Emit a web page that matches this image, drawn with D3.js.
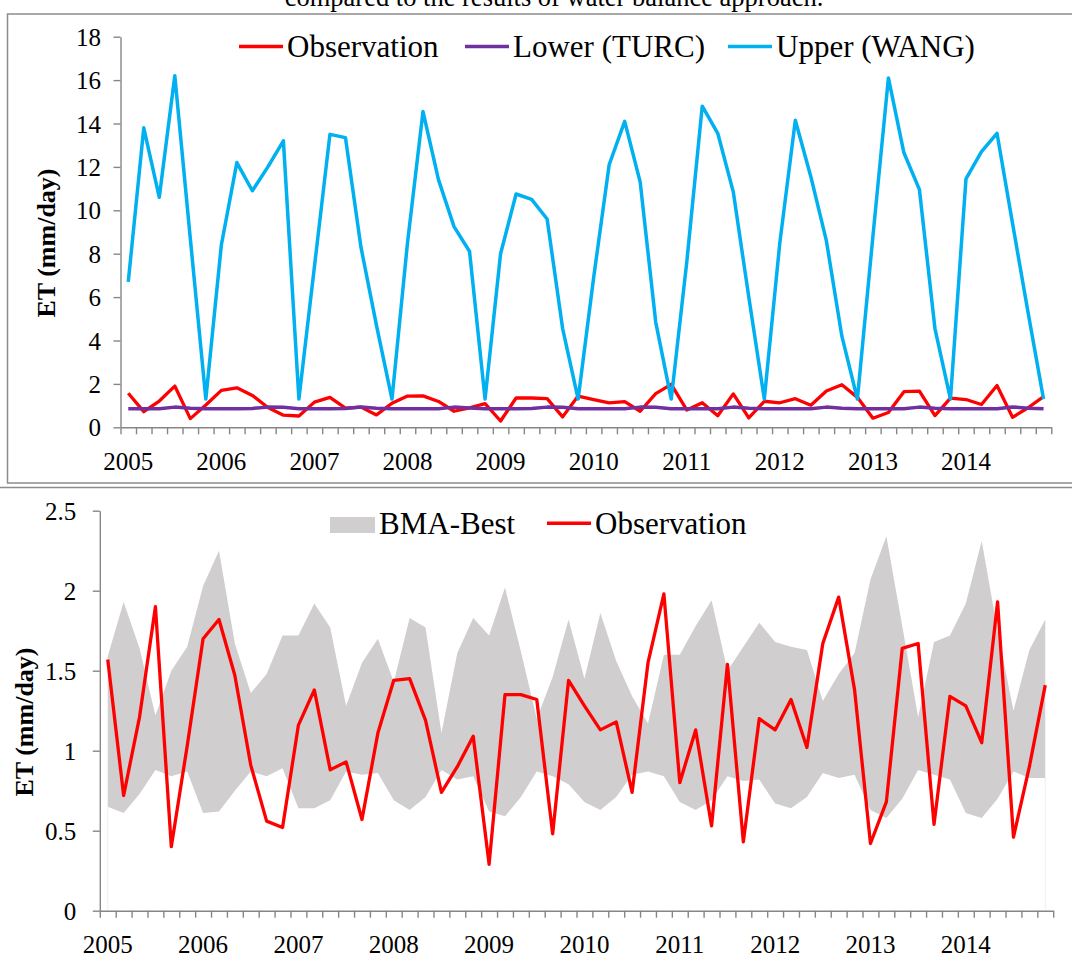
<!DOCTYPE html>
<html>
<head>
<meta charset="utf-8">
<script src="https://cdn.jsdelivr.net/npm/d3@7/dist/d3.min.js"></script>
<style>
  body { margin: 0; background: #fff; }
  svg { display: block; font-family: 'Liberation Serif', 'Times New Roman', serif; }
</style>
</head>
<body>
<div id="chart-container"></div>
<script>
// bimonthly values, 6 per year, 2005 - 2014
const years = ['2005', '2006', '2007', '2008', '2009', '2010', '2011', '2012', '2013', '2014'];
const observation = [1.57, 0.72, 1.21, 1.90, 0.40, 1.03, 1.70, 1.82, 1.47, 0.91,
  0.56, 0.52, 1.16, 1.38, 0.88, 0.93, 0.57, 1.11, 1.44, 1.45,
  1.19, 0.74, 0.90, 1.09, 0.29, 1.35, 1.35, 1.32, 0.48, 1.44,
  1.28, 1.13, 1.18, 0.74, 1.55, 1.98, 0.80, 1.13, 0.53, 1.54,
  0.43, 1.20, 1.13, 1.32, 1.02, 1.67, 1.96, 1.38, 0.42, 0.68,
  1.64, 1.67, 0.54, 1.34, 1.28, 1.05, 1.93, 0.46, 0.90, 1.41];
const lowerTurc = [0.85, 0.85, 0.86, 0.93, 0.88, 0.85, 0.85, 0.85, 0.87, 0.93,
  0.92, 0.86, 0.85, 0.85, 0.87, 0.94, 0.88, 0.85, 0.85, 0.85,
  0.86, 0.93, 0.89, 0.85, 0.85, 0.85, 0.87, 0.93, 0.92, 0.86,
  0.85, 0.85, 0.86, 0.93, 0.92, 0.86, 0.85, 0.85, 0.86, 0.93,
  0.88, 0.85, 0.85, 0.85, 0.86, 0.93, 0.88, 0.85, 0.85, 0.85,
  0.86, 0.93, 0.88, 0.85, 0.85, 0.85, 0.86, 0.94, 0.88, 0.85];
const upperWang = [6.7, 13.8, 10.6, 16.2, 8.7, 1.3, 8.4, 12.2, 10.9, 12.0,
  13.2, 1.3, 7.4, 13.5, 13.35, 8.3, 4.7, 1.3, 8.5, 14.55,
  11.4, 9.25, 8.1, 1.3, 8.0, 10.75, 10.5, 9.6, 4.55, 1.3,
  6.9, 12.1, 14.1, 11.3, 4.85, 1.3, 7.6, 14.8, 13.55, 10.85,
  6.0, 1.3, 8.5, 14.15, 11.55, 8.6, 4.2, 1.3, 8.8, 16.1,
  12.65, 10.95, 4.55, 1.3, 11.45, 12.7, 13.55, 9.4, 5.3, 1.3];
const bmaLow = [0.65, 0.61, 0.73, 0.88, 0.84, 0.87, 0.61, 0.62, 0.75, 0.87,
  0.84, 0.89, 0.64, 0.64, 0.69, 0.87, 0.85, 0.86, 0.69, 0.63,
  0.71, 0.88, 0.82, 0.84, 0.62, 0.59, 0.71, 0.87, 0.84, 0.79,
  0.68, 0.63, 0.71, 0.85, 0.87, 0.84, 0.68, 0.63, 0.69, 0.84,
  0.81, 0.82, 0.67, 0.64, 0.71, 0.86, 0.83, 0.85, 0.63, 0.58,
  0.70, 0.88, 0.85, 0.82, 0.61, 0.58, 0.70, 0.87, 0.83, 0.83];
const bmaHigh = [1.59, 1.93, 1.64, 1.22, 1.50, 1.65, 2.03, 2.25, 1.67, 1.36,
  1.48, 1.72, 1.72, 1.92, 1.77, 1.28, 1.55, 1.70, 1.43, 1.83,
  1.77, 1.11, 1.61, 1.83, 1.72, 2.02, 1.62, 1.20, 1.46, 1.82,
  1.45, 1.86, 1.56, 1.34, 1.17, 1.60, 1.60, 1.78, 1.94, 1.50,
  1.65, 1.80, 1.68, 1.65, 1.63, 1.31, 1.48, 1.61, 2.07, 2.34,
  1.78, 1.21, 1.68, 1.72, 1.92, 2.31, 1.75, 1.25, 1.63, 1.82];
const topTicks = [0, 2, 4, 6, 8, 10, 12, 14, 16, 18];
const bottomTicks = [0, 0.5, 1, 1.5, 2, 2.5];

const w = 1072;
const h = 961;
const perYear = 6;
const axisColor = '#868686';
const red = '#FF0000';
const purple = '#7030A0';
const blue = '#00B0F0';
const bandColor = '#D0CECE';
const serif = 'Liberation Serif, Times New Roman, serif';

const svg = d3.select('#chart-container')
  .append('svg')
  .attr('width', w)
  .attr('height', h);

// caption of the figure, cut at the top of the picture as in the original
svg.append('text')
  .attr('x', 554)
  .attr('y', 6)
  .attr('text-anchor', 'middle')
  .attr('font-size', 26.5)
  .text('compared to the results of water balance approach.');

// frame round the upper panel and the top edge of the lower one
svg.append('rect')
  .attr('x', 7.5)
  .attr('y', 14)
  .attr('width', 1100)
  .attr('height', 469)
  .attr('fill', 'none')
  .attr('stroke', '#8c8c8c')
  .attr('stroke-width', 1.5);
svg.append('line')
  .attr('x1', 0).attr('x2', w)
  .attr('y1', 487.5).attr('y2', 487.5)
  .attr('stroke', '#8c8c8c')
  .attr('stroke-width', 1.5);

const index = observation.map((d, i) => i);

function drawAxes(g, xScale, yScale, ticks, labelGap) {
  const [x0, x1] = xScale.range();
  const y0 = yScale.range()[0];
  const boundary = d3.scaleLinear().domain([0, index.length]).range([x0, x1]);

  const xAxis = g.append('g')
    .attr('transform', 'translate(0, ' + y0 + ')')
    .call(d3.axisBottom(boundary)
      .tickValues(d3.range(index.length + 1))
      .tickSize(7)
      .tickSizeOuter(0)
      .tickFormat(''));

  const xLabels = g.append('g')
    .attr('transform', 'translate(0, ' + y0 + ')')
    .call(d3.axisBottom(xScale)
      .tickValues(index.filter(i => i % perYear === 0))
      .tickSize(0)
      .tickFormat(i => years[i / perYear]));
  xLabels.select('.domain').remove();
  xLabels.attr('font-family', serif);
  xLabels.selectAll('text')
    .attr('y', 42.5)
    .attr('dy', null)
    .attr('font-size', 25)
    .attr('fill', '#000');

  const yAxis = g.append('g')
    .attr('transform', 'translate(' + x0 + ', 0)')
    .call(d3.axisLeft(yScale)
      .tickValues(ticks)
      .tickFormat(d => String(d))
      .tickSize(7)
      .tickSizeOuter(0)
      .tickPadding(labelGap));
  yAxis.attr('font-family', serif);
  yAxis.selectAll('text')
    .attr('font-size', 25)
    .attr('fill', '#000')
    .attr('dy', '0.34em');

  [xAxis, yAxis].forEach(a => {
    a.select('.domain').attr('stroke', axisColor).attr('stroke-width', 1.4);
    a.selectAll('.tick line').attr('stroke', axisColor).attr('stroke-width', 1.4);
  });
}

function yTitle(g, x, y) {
  g.append('text')
    .attr('transform', 'translate(' + x + ', ' + y + ') rotate(-90)')
    .attr('text-anchor', 'middle')
    .attr('font-size', 26)
    .attr('font-weight', 'bold')
    .text('ET (mm/day)');
}

function legendLine(g, x, y, color, label) {
  g.append('line')
    .attr('x1', x).attr('x2', x + 44)
    .attr('y1', y).attr('y2', y)
    .attr('stroke', color)
    .attr('stroke-width', 3.5);
  g.append('text')
    .attr('x', x + 48)
    .attr('y', y + 10.5)
    .attr('font-size', 31)
    .text(label);
}

// ---------- upper panel ----------
const topPanel = svg.append('g');
const xTop = d3.scaleBand().domain(index).range([120.5, 1051.3]);
const yTop = d3.scaleLinear().domain([0, 18]).range([427.3, 36.7]);
drawAxes(topPanel, xTop, yTop, topTicks, 12.5);
yTitle(topPanel, 55, 243);

const lineTop = d3.line()
  .x((d, i) => xTop(i) + xTop.bandwidth() / 2)
  .y(d => yTop(d));

[[observation, red, 3.3], [lowerTurc, purple, 3.5], [upperWang, blue, 3.5]].forEach(([data, color, width]) => {
  topPanel.append('path')
    .datum(data)
    .attr('d', lineTop)
    .attr('fill', 'none')
    .attr('stroke', color)
    .attr('stroke-width', width)
    .attr('stroke-linejoin', 'round');
});

legendLine(topPanel, 239, 46.5, red, 'Observation');
legendLine(topPanel, 465, 46.5, purple, 'Lower (TURC)');
legendLine(topPanel, 728, 46.5, blue, 'Upper (WANG)');

// ---------- lower panel ----------
const bottomPanel = svg.append('g');
const xBot = d3.scaleBand().domain(index).range([99.8, 1053.2]);
const yBot = d3.scaleLinear().domain([0, 2.5]).range([910.7, 510.7]);
const cx = i => xBot(i) + xBot.bandwidth() / 2;

const band = d3.area()
  .x((d, i) => cx(i))
  .y0((d, i) => yBot(bmaLow[i]))
  .y1(d => yBot(d));
bottomPanel.append('path')
  .datum(bmaHigh)
  .attr('d', band)
  .attr('fill', bandColor);

// faint edges left by the stacked area under the band
[0, index.length - 1].forEach(i => {
  bottomPanel.append('line')
    .attr('x1', cx(i)).attr('x2', cx(i))
    .attr('y1', yBot(bmaLow[i])).attr('y2', yBot(0))
    .attr('stroke', '#efefef')
    .attr('stroke-width', 1);
});

drawAxes(bottomPanel, xBot, yBot, bottomTicks, 16.5);
yTitle(bottomPanel, 32.5, 722);

bottomPanel.append('path')
  .datum(observation)
  .attr('d', d3.line().x((d, i) => cx(i)).y(d => yBot(d)))
  .attr('fill', 'none')
  .attr('stroke', red)
  .attr('stroke-width', 3.3)
  .attr('stroke-linejoin', 'round');

bottomPanel.append('rect')
  .attr('x', 330)
  .attr('y', 517)
  .attr('width', 45)
  .attr('height', 16)
  .attr('fill', bandColor);
bottomPanel.append('text')
  .attr('x', 379)
  .attr('y', 533.5)
  .attr('font-size', 31)
  .text('BMA-Best');
legendLine(bottomPanel, 547, 523.3, red, 'Observation');
</script>
</body>
</html>
